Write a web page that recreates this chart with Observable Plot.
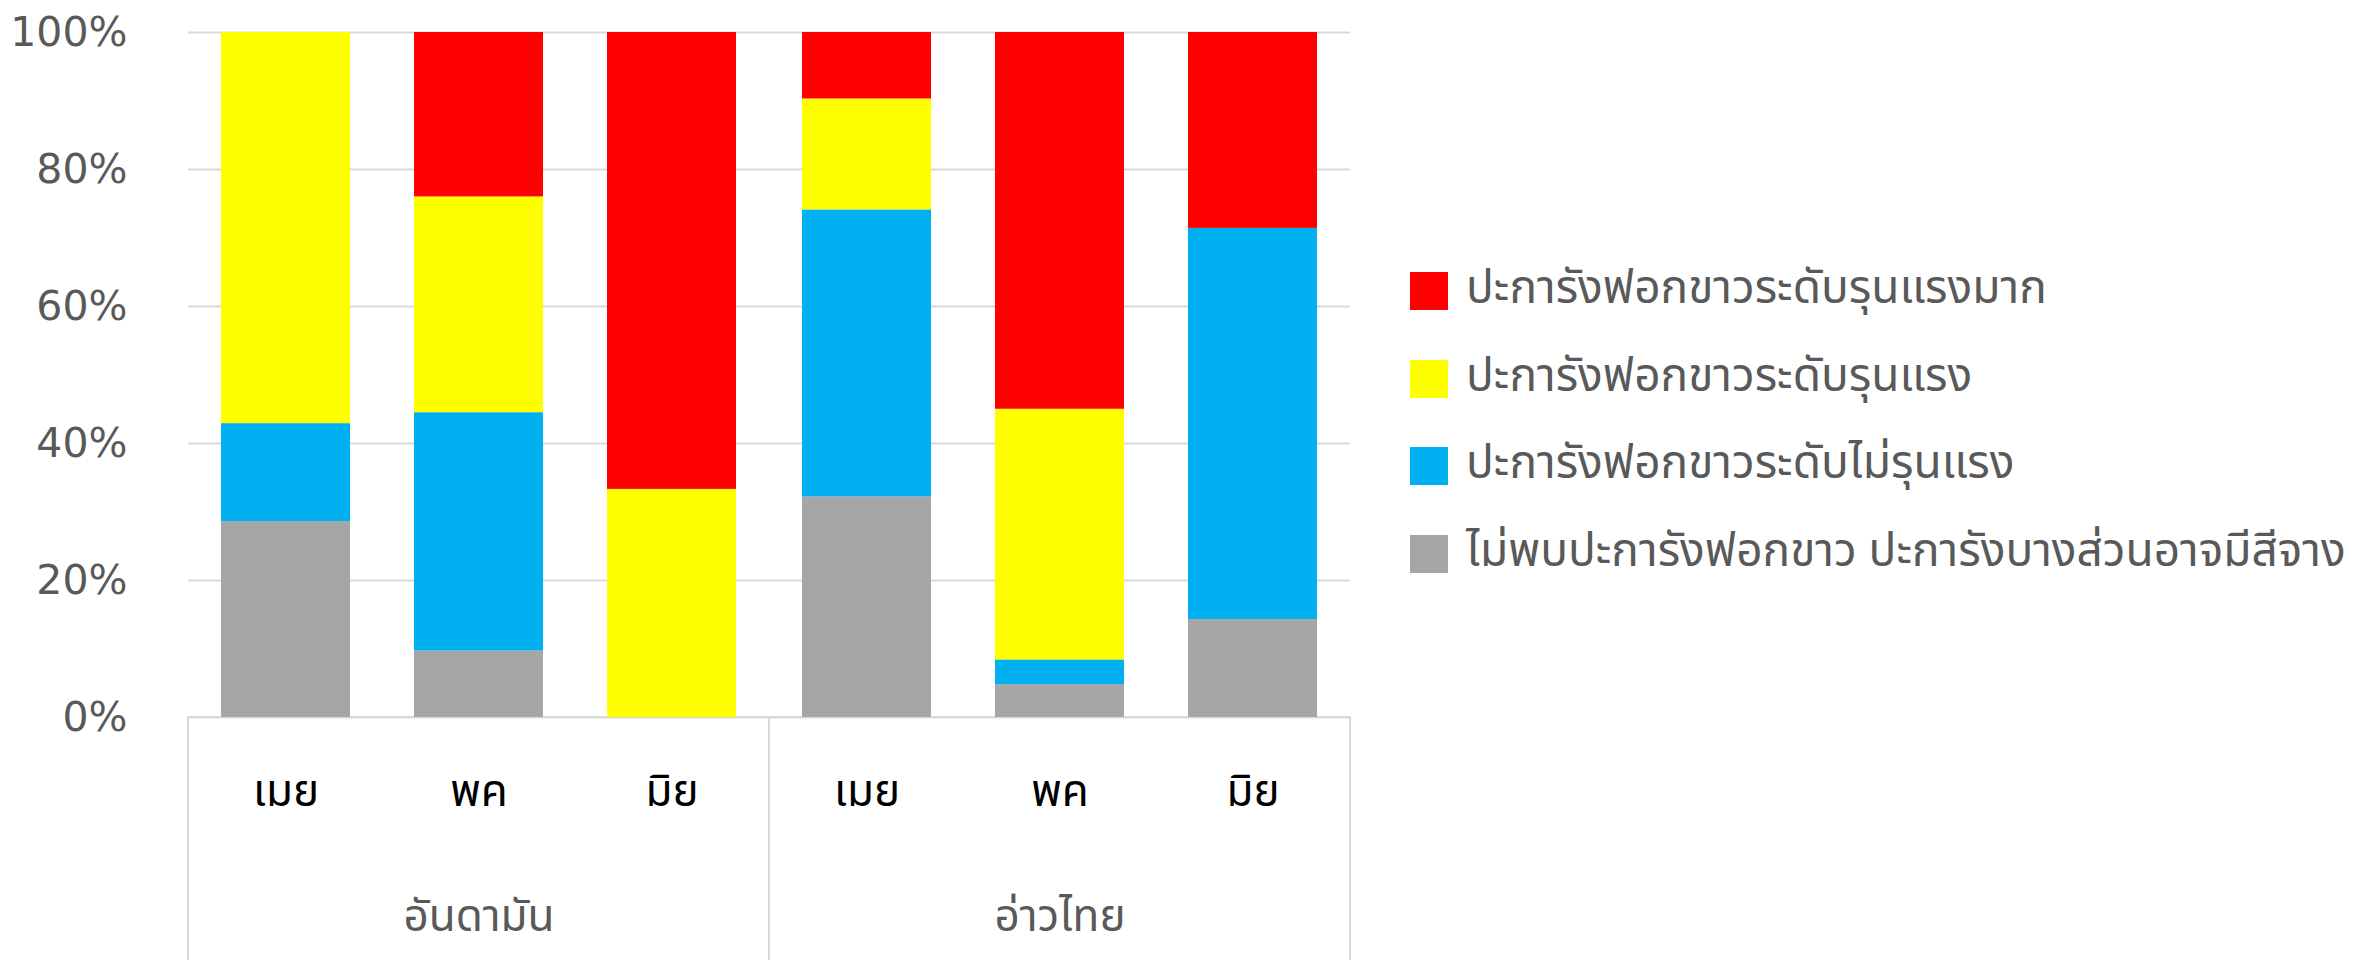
<!DOCTYPE html>
<html>
<head>
<meta charset="utf-8">
<script src="https://cdn.jsdelivr.net/npm/d3@7"></script>
<script src="https://cdn.jsdelivr.net/npm/@observablehq/plot@0.6"></script>
<style>
  html, body { margin: 0; padding: 0; background: #fff; }
  #wrap { position: relative; width: 2379px; height: 960px; overflow: hidden; }
  #legend { position: absolute; left: 1410px; top: 272px; font-family: "Noto Sans Thai", "Noto Sans Thai UI", "Leelawadee UI", Tahoma, "DejaVu Sans", sans-serif; color: #595959; }
  .row { display: flex; align-items: center; height: 38px; margin-bottom: 49.5px; white-space: nowrap; }
  .sw { width: 38px; height: 38px; flex: none; margin-right: 18px; }
  .lbl { font-size: 46px; line-height: 38px; position: relative; top: -2px; }
</style>
</head>
<body>
<div id="wrap"><div id="chart"></div><div id="legend"></div></div>
<script>
// Categories
const groups = ["อันดามัน", "อันดามัน", "อันดามัน", "อ่าวไทย", "อ่าวไทย", "อ่าวไทย"];
const months = ["เมย", "พค", "มิย", "เมย", "พค", "มิย"];
const groupNames = ["อันดามัน", "อ่าวไทย"];
const monthNames = ["เมย", "พค", "มิย"];

// Series (bottom to top), percent
const seriesNames = [
  "ไม่พบปะการังฟอกขาว ปะการังบางส่วนอาจมีสีจาง",
  "ปะการังฟอกขาวระดับไม่รุนแรง",
  "ปะการังฟอกขาวระดับรุนแรง",
  "ปะการังฟอกขาวระดับรุนแรงมาก"
];
const seriesColors = ["#a6a6a6", "#00b0f0", "#ffff00", "#ff0000"];
const noBleaching = [28.6, 9.7, 0, 32.2, 4.8, 14.3];
const mild        = [14.3, 34.8, 0, 41.9, 3.6, 57.1];
const severe      = [57.1, 31.5, 33.3, 16.2, 36.6, 0];
const verySevere  = [0, 24.0, 66.7, 9.7, 55.0, 28.6];
const seriesValues = [noBleaching, mild, severe, verySevere];

// Y ticks
const yTicks = [0, 20, 40, 60, 80, 100];
// Legend order (top to bottom)
const legendOrder = [3, 2, 1, 0];

const data = [];
groups.forEach((g, i) => {
  seriesNames.forEach((s, k) => {
    data.push({group: g, month: months[i], series: s, value: seriesValues[k][i]});
  });
});

const thaiFont = "'Noto Sans Thai', 'Noto Sans Thai UI', 'Leelawadee UI', Tahoma, 'DejaVu Sans', sans-serif";

const chart = Plot.plot({
  width: 2379,
  height: 960,
  marginLeft: 188,
  marginRight: 1029,
  marginTop: 32,
  marginBottom: 243,
  style: {background: "#fff", color: "#595959", fontFamily: "'DejaVu Sans', sans-serif", overflow: "visible"},
  fx: {domain: groupNames, padding: 0, axis: null, label: null},
  x: {domain: monthNames, paddingInner: 1/3, paddingOuter: 1/6, axis: null, label: null},
  y: {domain: [0, 100], axis: null, label: null},
  color: {domain: seriesNames, range: seriesColors},
  marks: [
    Plot.gridY(yTicks, {stroke: "#d9d9d9", strokeOpacity: 1, strokeWidth: 2}),
    Plot.rect([0], {y1: 0, y2: -38, stroke: "#d9d9d9", strokeWidth: 2, fill: "none"}),
    Plot.barY(data, {fx: "group", x: "month", y: "value", fill: "series"}),
    Plot.axisY(yTicks, {tickSize: 0, tickPadding: 61, fontSize: 41, tickFormat: d => d + "%", fill: "#595959", label: null}),
    Plot.axisX({tickSize: 0, tickPadding: 57, fontSize: 44, fill: "#000", fontFamily: thaiFont, label: null}),
    Plot.axisFx({anchor: "bottom", tickSize: 0, tickPadding: 182, fontSize: 44, fill: "#595959", fontFamily: thaiFont, label: null})
  ]
});
document.getElementById("chart").appendChild(chart);

const legend = document.getElementById("legend");
legendOrder.forEach(k => {
  const row = document.createElement("div");
  row.className = "row";
  const sw = document.createElement("div");
  sw.className = "sw";
  sw.style.background = seriesColors[k];
  const lbl = document.createElement("span");
  lbl.className = "lbl";
  lbl.textContent = seriesNames[k];
  row.appendChild(sw);
  row.appendChild(lbl);
  legend.appendChild(row);
});
</script>
</body>
</html>
